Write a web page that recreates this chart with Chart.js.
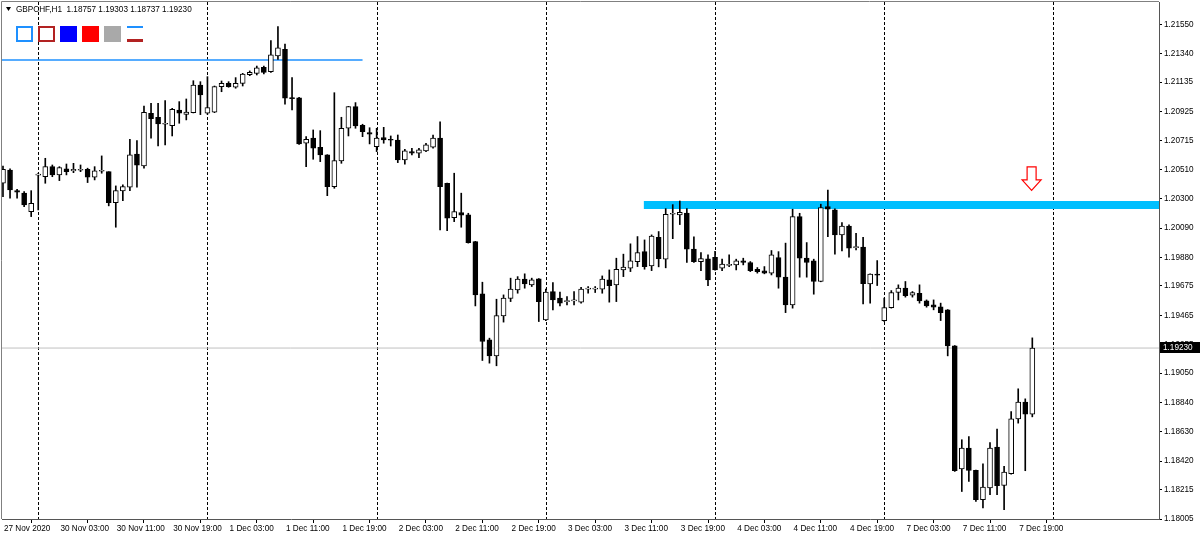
<!DOCTYPE html>
<html>
<head>
<meta charset="utf-8">
<script src="https://cdn.jsdelivr.net/npm/chart.js@4.4.1/dist/chart.umd.min.js"></script>
<style>
  html, body { margin: 0; padding: 0; background: #fff; }
  #wrap { width: 1200px; height: 540px; }
</style>
</head>
<body>
<div id="wrap"><canvas id="canvas" width="1200" height="540"></canvas></div>
<script>
// GBPCHF H1, 27 Nov 2020 19:00 .. 7 Dec 2020 21:00 (bar index 0..146)
const symbolTitle = 'GBPCHF,H1';
const opens = [
  1.20411,1.20506,1.20358,1.20340,1.20208,1.20469,1.20458,1.20530,1.20471,1.20514,
  1.20499,1.20504,1.20511,1.20454,1.20497,1.20494,1.20272,1.20356,1.20383,1.20621,
  1.20535,1.20913,1.20884,1.20834,1.20824,1.20936,1.20905,1.20917,1.21115,1.20913,
  1.20920,1.21103,1.21127,1.21099,1.21127,1.21189,1.21199,1.21242,1.21211,1.21323,
  1.21371,1.21020,1.21024,1.20698,1.20734,1.20669,1.20614,1.20387,1.20571,1.20805,
  1.20960,1.20827,1.20774,1.20673,1.20738,1.20721,1.20721,1.20578,1.20638,1.20626,
  1.20643,1.20669,1.20734,1.20411,1.20165,1.20201,1.20184,1.19993,1.19618,1.19289,
  1.19174,1.19461,1.19585,1.19647,1.19724,1.19683,1.19726,1.19432,1.19635,1.19588,
  1.19563,1.19568,1.19559,1.19652,1.19652,1.19652,1.19719,1.19683,1.19790,1.19802,
  1.19850,1.19921,1.19819,1.20024,1.19867,1.20189,1.20184,1.20198,1.19939,1.19850,
  1.19869,1.19881,1.19802,1.19823,1.19826,1.19855,1.19843,1.19795,1.19783,1.19767,
  1.19878,1.19738,1.19540,1.20172,1.19874,1.19855,1.19707,1.20244,1.20220,1.20041,
  1.20105,1.19950,1.19953,1.19690,1.19754,1.19427,1.19520,1.19629,1.19659,1.19609,
  1.19623,1.19568,1.19540,1.19525,1.19504,1.19246,1.18363,1.18513,1.18353,1.18143,
  1.18227,1.18520,1.18245,1.18329,1.18723,1.18843,1.18757
];
const highs = [
  1.20535,1.20514,1.20368,1.20351,1.20358,1.20483,1.20590,1.20542,1.20530,1.20549,
  1.20554,1.20542,1.20519,1.20530,1.20607,1.20494,1.20392,1.20399,1.20726,1.20716,
  1.20965,1.20984,1.20984,1.21003,1.20948,1.20996,1.21015,1.21146,1.21139,1.21175,
  1.21108,1.21144,1.21139,1.21168,1.21199,1.21216,1.21251,1.21251,1.21433,1.21533,
  1.21409,1.21168,1.21026,1.20745,1.20793,1.20788,1.20616,1.21060,1.20884,1.20962,
  1.20989,1.20834,1.20809,1.20805,1.20812,1.20750,1.20757,1.20655,1.20662,1.20662,
  1.20698,1.20757,1.20852,1.20413,1.20483,1.20340,1.20196,1.19995,1.19702,1.19301,
  1.19580,1.19611,1.19731,1.19742,1.19762,1.19731,1.19728,1.19652,1.19699,1.19631,
  1.19599,1.19635,1.19666,1.19671,1.19671,1.19747,1.19790,1.19874,1.19903,1.19977,
  1.20029,1.20005,1.20041,1.20065,1.20229,1.20258,1.20284,1.20229,1.20027,1.19914,
  1.19898,1.19924,1.19867,1.19898,1.19867,1.19874,1.19850,1.19807,1.19814,1.19929,
  1.19921,1.19982,1.20225,1.20196,1.19986,1.19867,1.20261,1.20363,1.20227,1.20129,
  1.20113,1.20053,1.20024,1.19762,1.19857,1.19588,1.19642,1.19683,1.19707,1.19635,
  1.19683,1.19575,1.19575,1.19552,1.19506,1.19248,1.18573,1.18596,1.18355,1.18401,
  1.18553,1.18649,1.18382,1.18775,1.18938,1.18866,1.19303
];
const lows = [
  1.20315,1.20304,1.20304,1.20244,1.20172,1.20220,1.20411,1.20458,1.20430,1.20471,
  1.20487,1.20494,1.20416,1.20435,1.20483,1.20249,1.20096,1.20287,1.20358,1.20383,
  1.20519,1.20734,1.20678,1.20686,1.20750,1.20841,1.20865,1.20915,1.20903,1.20905,
  1.20917,1.21067,1.21099,1.21092,1.21108,1.21182,1.21187,1.21194,1.21206,1.21299,
  1.20977,1.20936,1.20690,1.20530,1.20583,1.20566,1.20322,1.20375,1.20554,1.20750,
  1.20805,1.20745,1.20693,1.20638,1.20698,1.20678,1.20559,1.20547,1.20614,1.20595,
  1.20638,1.20662,1.20077,1.20072,1.20136,1.20096,1.19982,1.19532,1.19141,1.19122,
  1.19103,1.19416,1.19563,1.19623,1.19659,1.19671,1.19420,1.19427,1.19504,1.19532,
  1.19540,1.19540,1.19552,1.19623,1.19628,1.19623,1.19559,1.19563,1.19742,1.19778,
  1.19814,1.19795,1.19785,1.19812,1.19805,1.20014,1.20115,1.19843,1.19843,1.19785,
  1.19678,1.19788,1.19785,1.19814,1.19790,1.19826,1.19778,1.19767,1.19762,1.19754,
  1.19659,1.19484,1.19516,1.19738,1.19738,1.19616,1.19705,1.20029,1.19903,1.19926,
  1.19881,1.19934,1.19547,1.19552,1.19678,1.19420,1.19516,1.19575,1.19595,1.19595,
  1.19552,1.19523,1.19504,1.19427,1.19174,1.18346,1.18202,1.18274,1.18131,1.18084,
  1.18179,1.18179,1.18071,1.18327,1.18692,1.18351,1.18737
];
const closes = [
  1.20511,1.20363,1.20347,1.20256,1.20268,1.20473,1.20530,1.20471,1.20523,1.20494,
  1.20511,1.20509,1.20454,1.20501,1.20499,1.20272,1.20358,1.20387,1.20614,1.20540,
  1.20920,1.20874,1.20836,1.20836,1.20941,1.20913,1.20922,1.21115,1.21044,1.20953,
  1.21103,1.21127,1.21103,1.21127,1.21194,1.21206,1.21239,1.21206,1.21332,1.21382,
  1.21020,1.21017,1.20693,1.20726,1.20662,1.20614,1.20387,1.20573,1.20805,1.20960,
  1.20822,1.20781,1.20762,1.20734,1.20721,1.20719,1.20578,1.20643,1.20626,1.20650,
  1.20686,1.20734,1.20387,1.20161,1.20208,1.20182,1.19986,1.19611,1.19277,1.19174,
  1.19463,1.19588,1.19652,1.19724,1.19690,1.19719,1.19563,1.19631,1.19575,1.19552,
  1.19565,1.19570,1.19652,1.19654,1.19653,1.19724,1.19678,1.19795,1.19810,1.19855,
  1.19914,1.19814,1.20032,1.19871,1.20189,1.20190,1.20202,1.19939,1.19850,1.19871,
  1.19719,1.19790,1.19831,1.19825,1.19855,1.19843,1.19785,1.19778,1.19767,1.19898,
  1.19738,1.19540,1.20172,1.19874,1.19843,1.19707,1.20237,1.20225,1.20041,1.20105,
  1.19946,1.19951,1.19692,1.19760,1.19753,1.19520,1.19628,1.19659,1.19606,1.19628,
  1.19568,1.19532,1.19523,1.19484,1.19246,1.18351,1.18513,1.18353,1.18143,1.18234,
  1.18513,1.18243,1.18341,1.18723,1.18843,1.18757,1.19230
];

// time axis: labelled bars (every 8 hours) and day starts
const tickBars = [0,8,16,24,32,40,48,56,64,72,80,88,96,104,112,120,128,136,144];
const tickLabels = ['27 Nov 2020','30 Nov 03:00','30 Nov 11:00','30 Nov 19:00','1 Dec 03:00',
  '1 Dec 11:00','1 Dec 19:00','2 Dec 03:00','2 Dec 11:00','2 Dec 19:00','3 Dec 03:00',
  '3 Dec 11:00','3 Dec 19:00','4 Dec 03:00','4 Dec 11:00','4 Dec 19:00','7 Dec 03:00',
  '7 Dec 11:00','7 Dec 19:00'];
const daySeparators = [5,29,53,77,101,125,149];
const priceTicks = [1.18005,1.18215,1.18420,1.18630,1.18840,1.19050,1.19255,1.19465,1.19675,
  1.19880,1.20090,1.20300,1.20510,1.20715,1.20925,1.21135,1.21340,1.21550];

// drawn objects
const trendLineBars = [-1, 51.0];
const trendLinePrice = 1.21294;
const zoneBars = [90.9, 170];
const zonePrice = 1.20256;
const bidPrice = closes[closes.length - 1];
const arrowBar = 145.9;
const arrowPrice = 1.20528;

const FONT_FAMILY = '"Liberation Sans", Arial, sans-serif';
const FONT = '8.2px ' + FONT_FAMILY;

const candleBodies = opens.map((o, i) => ({ x: i, y: [o, closes[i]] }));
const candleWicks = opens.map((o, i) => ({ x: i, y: [lows[i], highs[i]] }));
const bodyColors = opens.map((o, i) => closes[i] >= o ? '#ffffff' : '#000000');

const mtOverlay = {
  id: 'mtOverlay',
  beforeDatasetsDraw(chart) {
    const { ctx, chartArea: a, scales: { x } } = chart;
    ctx.save();
    ctx.strokeStyle = '#000';
    ctx.lineWidth = 1;
    ctx.setLineDash([3, 2]);
    daySeparators.forEach(b => {
      const px = Math.round(x.getPixelForValue(b)) + 0.5;
      if (px < a.left || px > a.right) return;
      ctx.beginPath();
      ctx.moveTo(px, a.top);
      ctx.lineTo(px, a.bottom);
      ctx.stroke();
    });
    ctx.restore();
  },
  afterDraw(chart) {
    const { ctx, chartArea: a, scales: { x, y } } = chart;
    ctx.save();
    // frame (left and top; right/bottom are the axis borders)
    ctx.strokeStyle = '#808080';
    ctx.lineWidth = 1;
    ctx.beginPath();
    ctx.moveTo(a.left - 0.5, a.bottom);
    ctx.lineTo(a.left - 0.5, a.top - 0.5);
    ctx.lineTo(a.right, a.top - 0.5);
    ctx.stroke();

    // header
    const n = closes.length - 1;
    ctx.fillStyle = '#000';
    ctx.beginPath();
    ctx.moveTo(6, 7); ctx.lineTo(11, 7); ctx.lineTo(8.5, 11); ctx.closePath();
    ctx.fill();
    ctx.font = FONT;
    ctx.textBaseline = 'middle';
    ctx.textAlign = 'left';
    ctx.fillText(symbolTitle + '  ' + [opens[n], highs[n], lows[n], closes[n]].map(v => v.toFixed(5)).join(' '), 16, 9.5);

    // object buttons
    ctx.lineWidth = 2;
    ctx.strokeStyle = '#1e90ff';
    ctx.strokeRect(17, 27, 15, 14);
    ctx.strokeStyle = '#b22222';
    ctx.strokeRect(39, 27, 15, 14);
    ctx.fillStyle = '#0000ff'; ctx.fillRect(60, 26, 17, 16);
    ctx.fillStyle = '#ff0000'; ctx.fillRect(82, 26, 17, 16);
    ctx.fillStyle = '#a9a9a9'; ctx.fillRect(104, 26, 17, 16);
    ctx.fillStyle = '#1e90ff'; ctx.fillRect(127, 26, 16, 2);
    ctx.fillStyle = '#b22222'; ctx.fillRect(127, 39, 16, 3);

    // sell arrow
    const ax = x.getPixelForValue(arrowBar);
    const ay = y.getPixelForValue(arrowPrice);
    ctx.lineWidth = 1.2;
    ctx.strokeStyle = '#ff0000';
    ctx.fillStyle = '#fff';
    ctx.beginPath();
    ctx.moveTo(ax - 4.5, ay);
    ctx.lineTo(ax + 4.5, ay);
    ctx.lineTo(ax + 4.5, ay + 13);
    ctx.lineTo(ax + 9.5, ay + 13);
    ctx.lineTo(ax, ay + 23.5);
    ctx.lineTo(ax - 9.5, ay + 13);
    ctx.lineTo(ax - 4.5, ay + 13);
    ctx.closePath();
    ctx.fill();
    ctx.stroke();

    // bid price box on the axis
    const by = Math.round(y.getPixelForValue(bidPrice));
    ctx.fillStyle = '#000';
    ctx.fillRect(a.right + 1, by - 6, 41, 11);
    ctx.fillStyle = '#fff';
    ctx.font = FONT;
    ctx.fillText(bidPrice.toFixed(5), a.right + 4, by);
    ctx.restore();
  }
};

new Chart(document.getElementById('canvas').getContext('2d'), {
  type: 'bar',
  data: {
    datasets: [
      {
        label: 'bodies', data: candleBodies, order: 1, grouped: false,
        backgroundColor: bodyColors, borderColor: '#000', borderWidth: 1,
        borderSkipped: false, barThickness: 5, minBarLength: 1
      },
      {
        label: 'wicks', data: candleWicks, order: 2, grouped: false,
        backgroundColor: '#000', borderWidth: 0, barThickness: 1, minBarLength: 1
      },
      {
        type: 'line', label: 'trend', order: 4, clip: 0,
        data: trendLineBars.map(b => ({ x: b, y: trendLinePrice })),
        borderColor: '#1e90ff', borderWidth: 1.5, pointRadius: 0
      },
      {
        type: 'line', label: 'zone', order: 5, clip: 0,
        data: zoneBars.map(b => ({ x: b, y: zonePrice })),
        borderColor: '#00bfff', borderWidth: 8, pointRadius: 0, borderCapStyle: 'butt'
      },
      {
        type: 'line', label: 'bid', order: 6, clip: 0,
        data: [{ x: -5, y: bidPrice }, { x: 200, y: bidPrice }],
        borderColor: '#c0c0c0', borderWidth: 1, pointRadius: 0
      }
    ]
  },
  options: {
    responsive: false,
    animation: false,
    devicePixelRatio: 1,
    layout: { autoPadding: false, padding: { left: 2, top: 2, right: 0, bottom: 0 } },
    plugins: { legend: { display: false }, tooltip: { enabled: false } },
    scales: {
      x: {
        type: 'linear', position: 'bottom', min: -0.14, max: 163.97, offset: false,
        afterBuildTicks: s => { s.ticks = tickBars.map(v => ({ value: v })); },
        afterFit: s => { s.height = 21; s.paddingLeft = 0; s.paddingRight = 0; },
        grid: { drawOnChartArea: false, drawTicks: true, tickLength: 4, tickColor: '#000' },
        border: { display: true, color: '#555', width: 1 },
        ticks: {
          autoSkip: false, maxRotation: 0, minRotation: 0, align: 'start', padding: 1, labelOffset: 1,
          color: '#000', font: { family: FONT_FAMILY, size: 8.2 },
          callback: v => tickLabels[tickBars.indexOf(v)]
        }
      },
      y: {
        type: 'linear', position: 'right', min: 1.18005, max: 1.21710,
        afterBuildTicks: s => { s.ticks = priceTicks.map(v => ({ value: v })); },
        afterFit: s => { s.width = 41; s.paddingTop = 0; s.paddingBottom = 0; },
        grid: { drawOnChartArea: false, drawTicks: true, tickLength: 3, tickColor: '#000' },
        border: { display: true, color: '#555', width: 1 },
        ticks: {
          padding: 2, color: '#000', font: { family: FONT_FAMILY, size: 8.2 },
          callback: v => v.toFixed(5)
        }
      }
    }
  },
  plugins: [mtOverlay]
});
</script>
</body>
</html>
